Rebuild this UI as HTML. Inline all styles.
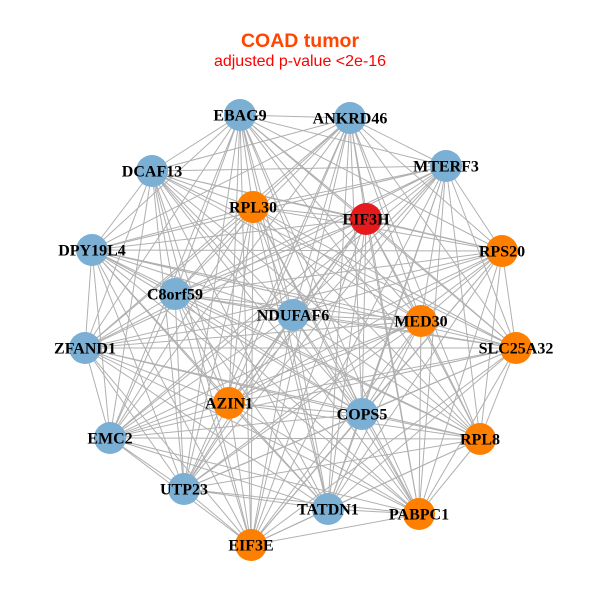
<!DOCTYPE html>
<html><head><meta charset="utf-8"><style>
html,body{margin:0;padding:0;background:#fff;}
svg{display:block;}
</style></head><body>
<svg width="600" height="600" viewBox="0 0 600 600" xmlns="http://www.w3.org/2000/svg">
<rect width="600" height="600" fill="#fff"/>
<text x="300" y="47" text-anchor="middle" font-family="Liberation Sans, sans-serif" font-weight="bold" font-size="19.5" fill="#FF4500">COAD tumor</text>
<text x="300" y="66" text-anchor="middle" font-family="Liberation Sans, sans-serif" font-size="16" fill="#FF0000">adjusted p-value &lt;2e-16</text>
<g stroke="#b0b0b0" stroke-width="1" fill="none">
<path d="M240 115L350 118M240 115L446 166M240 115L152 171M240 115L253 207M240 115L366 219M240 115L502 251M240 115L92 250M240 115L175 294M240 115L293 315M240 115L421 321M240 115L516 348M240 115L85 348M240 115L229 403M240 115L362 414M240 115L480 439M240 115L110 438M240 115L184 489M240 115L328 509M240 115L419 514M240 115L251 545"/>
<path d="M350 118L446 166M350 118L152 171M350 118L253 207M350 118L366 219M350 118L502 251M350 118L92 250M350 118L175 294M350 118L293 315M350 118L421 321M350 118L516 348M350 118L85 348M350 118L229 403M350 118L362 414M350 118L480 439M350 118L110 438M350 118L184 489M350 118L328 509M350 118L419 514M350 118L251 545"/>
<path d="M446 166L152 171M446 166L253 207M446 166L366 219M446 166L502 251M446 166L92 250M446 166L175 294M446 166L293 315M446 166L421 321M446 166L516 348M446 166L85 348M446 166L229 403M446 166L362 414M446 166L480 439M446 166L110 438M446 166L184 489M446 166L328 509M446 166L419 514M446 166L251 545"/>
<path d="M152 171L253 207M152 171L366 219M152 171L502 251M152 171L92 250M152 171L175 294M152 171L293 315M152 171L421 321M152 171L516 348M152 171L85 348M152 171L229 403M152 171L362 414M152 171L480 439M152 171L110 438M152 171L184 489M152 171L328 509M152 171L419 514M152 171L251 545"/>
<path d="M253 207L366 219M253 207L502 251M253 207L92 250M253 207L175 294M253 207L293 315M253 207L421 321M253 207L516 348M253 207L85 348M253 207L229 403M253 207L362 414M253 207L480 439M253 207L110 438M253 207L184 489M253 207L328 509M253 207L419 514M253 207L251 545"/>
<path d="M366 219L502 251M366 219L92 250M366 219L175 294M366 219L293 315M366 219L421 321M366 219L516 348M366 219L85 348M366 219L229 403M366 219L362 414M366 219L480 439M366 219L110 438M366 219L184 489M366 219L328 509M366 219L419 514M366 219L251 545"/>
<path d="M502 251L92 250M502 251L175 294M502 251L293 315M502 251L421 321M502 251L516 348M502 251L85 348M502 251L229 403M502 251L362 414M502 251L480 439M502 251L110 438M502 251L184 489M502 251L328 509M502 251L419 514M502 251L251 545"/>
<path d="M92 250L175 294M92 250L293 315M92 250L421 321M92 250L516 348M92 250L85 348M92 250L229 403M92 250L362 414M92 250L480 439M92 250L110 438M92 250L184 489M92 250L328 509M92 250L419 514M92 250L251 545"/>
<path d="M175 294L293 315M175 294L421 321M175 294L516 348M175 294L85 348M175 294L229 403M175 294L362 414M175 294L480 439M175 294L110 438M175 294L184 489M175 294L328 509M175 294L419 514M175 294L251 545"/>
<path d="M293 315L421 321M293 315L516 348M293 315L85 348M293 315L229 403M293 315L362 414M293 315L480 439M293 315L110 438M293 315L184 489M293 315L328 509M293 315L419 514M293 315L251 545"/>
<path d="M421 321L516 348M421 321L85 348M421 321L229 403M421 321L362 414M421 321L480 439M421 321L110 438M421 321L184 489M421 321L328 509M421 321L419 514M421 321L251 545"/>
<path d="M516 348L85 348M516 348L229 403M516 348L362 414M516 348L480 439M516 348L110 438M516 348L184 489M516 348L328 509M516 348L419 514M516 348L251 545"/>
<path d="M85 348L229 403M85 348L362 414M85 348L480 439M85 348L110 438M85 348L184 489M85 348L328 509M85 348L419 514M85 348L251 545"/>
<path d="M229 403L362 414M229 403L480 439M229 403L110 438M229 403L184 489M229 403L328 509M229 403L419 514M229 403L251 545"/>
<path d="M362 414L480 439M362 414L110 438M362 414L184 489M362 414L328 509M362 414L419 514M362 414L251 545"/>
<path d="M480 439L110 438M480 439L184 489M480 439L328 509M480 439L419 514M480 439L251 545"/>
<path d="M110 438L184 489M110 438L328 509M110 438L419 514M110 438L251 545"/>
<path d="M184 489L328 509M184 489L419 514M184 489L251 545"/>
<path d="M328 509L419 514M328 509L251 545"/>
<path d="M419 514L251 545"/>
</g>
<g>
<circle cx="240" cy="115" r="16" fill="#7BAFD4"/>
<circle cx="350" cy="118" r="16" fill="#7BAFD4"/>
<circle cx="446" cy="166" r="16" fill="#7BAFD4"/>
<circle cx="152" cy="171" r="16" fill="#7BAFD4"/>
<circle cx="253" cy="207" r="16" fill="#FF7F00"/>
<circle cx="366" cy="219" r="16" fill="#E41A1C"/>
<circle cx="502" cy="251" r="16" fill="#FF7F00"/>
<circle cx="92" cy="250" r="16" fill="#7BAFD4"/>
<circle cx="175" cy="294" r="16" fill="#7BAFD4"/>
<circle cx="293" cy="315" r="16" fill="#7BAFD4"/>
<circle cx="421" cy="321" r="16" fill="#FF7F00"/>
<circle cx="516" cy="348" r="16" fill="#FF7F00"/>
<circle cx="85" cy="348" r="16" fill="#7BAFD4"/>
<circle cx="229" cy="403" r="16" fill="#FF7F00"/>
<circle cx="362" cy="414" r="16" fill="#7BAFD4"/>
<circle cx="480" cy="439" r="16" fill="#FF7F00"/>
<circle cx="110" cy="438" r="16" fill="#7BAFD4"/>
<circle cx="184" cy="489" r="16" fill="#7BAFD4"/>
<circle cx="328" cy="509" r="16" fill="#7BAFD4"/>
<circle cx="419" cy="514" r="16" fill="#FF7F00"/>
<circle cx="251" cy="545" r="16" fill="#FF7F00"/>
</g>
<g font-family="Liberation Serif, serif" font-weight="bold" font-size="16" fill="#000" text-anchor="middle">
<text x="240" y="120.5">EBAG9</text>
<text x="350" y="123.5">ANKRD46</text>
<text x="446" y="171.5">MTERF3</text>
<text x="152" y="176.5">DCAF13</text>
<text x="253" y="212.5">RPL30</text>
<text x="366" y="224.5">EIF3H</text>
<text x="502" y="256.5">RPS20</text>
<text x="92" y="255.5">DPY19L4</text>
<text x="175" y="299.5">C8orf59</text>
<text x="293" y="320.5">NDUFAF6</text>
<text x="421" y="326.5">MED30</text>
<text x="516" y="353.5">SLC25A32</text>
<text x="85" y="353.5">ZFAND1</text>
<text x="229" y="408.5">AZIN1</text>
<text x="362" y="419.5">COPS5</text>
<text x="480" y="444.5">RPL8</text>
<text x="110" y="443.5">EMC2</text>
<text x="184" y="494.5">UTP23</text>
<text x="328" y="514.5">TATDN1</text>
<text x="419" y="519.5">PABPC1</text>
<text x="251" y="550.5">EIF3E</text>
</g>
</svg>
</body></html>
